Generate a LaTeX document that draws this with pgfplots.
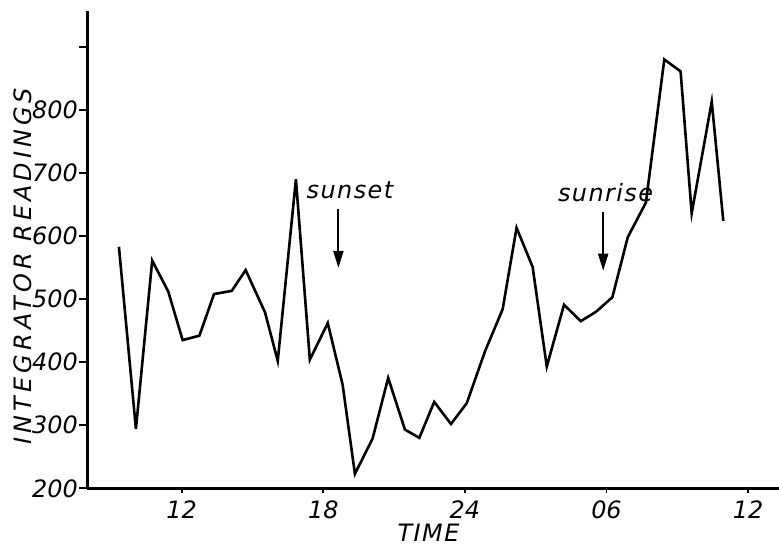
\documentclass[border=0pt]{standalone}
\usepackage{fontspec}
\setmainfont{DejaVu Sans}
\newfontfamily\ylfont[LetterSpace=17]{DejaVu Sans}
\newfontfamily\tmfont[LetterSpace=6]{DejaVu Sans}
\newfontfamily\anfont[LetterSpace=6]{DejaVu Sans}
\usepackage{pgfplots}
\usepackage{pgfplotstable}
\pgfplotsset{compat=1.18}
\usetikzlibrary{arrows.meta}
\newcommand\tk{\fontsize{24}{28}\selectfont\itshape}
\pgfplotstableread{
t v
9.34 583
10.06 294
10.75 561
11.43 512
12.04 435
12.75 442
13.37 508
14.12 513
14.71 546
15.53 479
16.07 402
16.84 690
17.43 404
18.19 462
18.82 364
19.34 223
20.09 279
20.75 375
21.46 293
22.07 280
22.70 337
23.41 302
24.08 335
24.85 417
25.60 484
26.19 613
26.87 551
27.47 393
28.20 491
28.91 465
29.56 480
30.25 503
30.90 598
31.67 653
32.45 880
33.14 861
33.61 636
34.46 813
34.95 624
}\data
\begin{document}
\begin{tikzpicture}
\useasboundingbox (-87.3bp,-57.7bp) rectangle (691.7bp,488.3bp);
\begin{axis}[
  at={(0,0)}, anchor=south west,
  scale only axis, width=691.7bp, height=476.8bp,
  xmin=8, xmax=37.31, ymin=200, ymax=956,
  axis x line*=bottom, axis y line*=left,
  axis line style={line width=2.6bp, black},
  xtick={12,18,24,30,36}, xticklabels={12,18,24,06,12},
  ytick={200,300,400,500,600,700,800,900},
  yticklabels={200,300,400,500,600,700,800,{}},
  tick align=outside,
  major tick length=8bp,
  tick style={line width=1.8bp, black},
  xtick style={/pgfplots/major tick length=5bp},
  ticklabel style={font=\tk},
  /pgf/number format/assume math mode=true,
  xticklabel style={anchor=north, yshift=-1bp},
  yticklabel style={anchor=east, xshift=2bp},
  xlabel={\tmfont\tk TIME},
  xlabel style={at={(axis description cs:0.4933,-0.1113)}, anchor=base},
  ylabel={\ylfont\tk INTEGRATOR READINGS},
  ylabel style={at={(axis description cs:-0.093,0.4662)}, anchor=center},
  clip=false,
]
\addplot[black, line width=2.6bp, line join=miter] table[x=t, y=v] {\data};
\draw[line width=2bp, -{Triangle[length=17bp,width=10bp]}] (axis cs:18.64,643) -- (axis cs:18.64,549.4);
\draw[line width=2bp, -{Triangle[length=17bp,width=10bp]}] (axis cs:29.86,638.7) -- (axis cs:29.86,545);
\node[font=\anfont\tk, anchor=base] at (axis cs:19.13,658.8) {sunset};
\node[font=\anfont\tk, anchor=base] at (axis cs:29.96,654.6) {sunrise};
\end{axis}
\end{tikzpicture}
\end{document}
